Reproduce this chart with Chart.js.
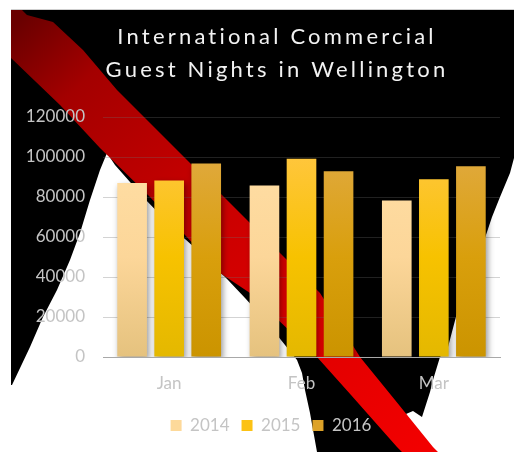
<!DOCTYPE html>
<html>
<head>
<meta charset="utf-8">
<script src="https://cdn.jsdelivr.net/npm/chart.js@4.4.0/dist/chart.umd.min.js"></script>
<style>
  html, body { margin: 0; padding: 0; background: #fff; }
  canvas { display: block; }
</style>
</head>
<body>
<canvas id="guestNightsChart" width="514" height="452"></canvas>
<script>
const months = ['Jan', 'Feb', 'Mar'];
const years = ['2014', '2015', '2016'];
const nights2014 = [87000, 85800, 78200];
const nights2015 = [88300, 99100, 88900];
const nights2016 = [96700, 92900, 95400];
const yTicks = [0, 20000, 40000, 60000, 80000, 100000, 120000];
const chartTitle = ['International Commercial', 'Guest Nights in Wellington'];

const labelFont = { family: 'Lato', size: 17 };
const labelColor = '#c4c4c4';

// vertical gradient for each year's bars
function barFill(stops) {
  return ctx => {
    const area = ctx.chart.chartArea;
    if (!area) return stops[1];
    const g = ctx.chart.ctx.createLinearGradient(0, area.top + 40, 0, area.bottom);
    stops.forEach((c, i) => g.addColorStop(i / (stops.length - 1), c));
    return g;
  };
}

const fills = [
  ['#ffdea4', '#fcd699', '#e5c27e'],
  ['#ffc63c', '#f7c200', '#e4b800'],
  ['#e0a93d', '#d99f0c', '#cb9400']
];
const swatches = ['#fdd99a', '#fcc214', '#dda228'];

// black card, white cut-outs and the red ribbon behind the plot
const backdrop = {
  id: 'backdrop',
  beforeDraw(chart) {
    const c = chart.ctx;
    const poly = pts => {
      c.beginPath();
      pts.forEach(([x, y], i) => i ? c.lineTo(x, y) : c.moveTo(x, y));
      c.closePath();
    };
    c.save();
    c.fillStyle = '#fff';
    c.fillRect(0, 0, chart.width, chart.height);
    c.strokeStyle = '#cfcfcf';
    c.lineWidth = 1;
    c.beginPath(); c.moveTo(11, 9.5); c.lineTo(chart.width, 9.5); c.stroke();

    c.fillStyle = '#000';
    poly([
      [11, 10], [514, 10], [514, 158], [510, 173], [500, 197], [492, 217], [487, 232],
      [478, 258], [467, 288], [457, 313], [448, 347], [440, 357], [433, 380], [430, 392],
      [422, 417], [413, 411], [406, 414], [420, 452],
      [317, 452], [310, 413], [305, 390], [302, 373], [297, 360], [285, 345], [265, 320],
      [245, 298], [228, 280], [205, 257], [175, 230], [143, 197], [130, 182], [115, 165],
      [107, 153], [100, 170], [90, 200], [80, 233], [70, 260], [57, 290], [43, 317],
      [30, 347], [12, 385], [11, 385]
    ]);
    c.fill();

    const red = c.createLinearGradient(20, 20, 420, 450);
    red.addColorStop(0, '#6a0000');
    red.addColorStop(0.15, '#a40000');
    red.addColorStop(0.4, '#c40000');
    red.addColorStop(0.7, '#de0000');
    red.addColorStop(1, '#f20000');
    c.fillStyle = red;
    poly([
      [22, 10], [27, 15], [53, 22], [83, 50], [117, 90], [167, 140], [227, 200],
      [275, 248], [320, 293], [360, 357], [395, 400], [433, 447], [438, 452],
      [402, 452], [397, 447], [351, 395], [317, 357], [250, 293], [220, 273],
      [150, 197], [100, 148], [60, 105], [11, 58], [11, 10]
    ]);
    c.fill();
    c.restore();
  }
};

// soft drop shadow under the bars
const barShadow = {
  id: 'barShadow',
  beforeDatasetsDraw(chart) {
    const c = chart.ctx;
    c.save();
    c.shadowColor = 'rgba(0, 0, 0, 0.4)';
    c.shadowBlur = 6;
    c.shadowOffsetX = 2;
    c.shadowOffsetY = 3;
  },
  afterDatasetsDraw(chart) {
    chart.ctx.restore();
  }
};

// wrap a layout box's draw so it is shifted right (and optionally letter-spaced)
function nudge(chart, block, dx, spacing) {
  if (!block || block._nudged) return;
  const draw = block.draw.bind(block);
  block.draw = area => {
    chart.ctx.save();
    if (spacing) chart.ctx.letterSpacing = spacing;
    chart.ctx.translate(dx, 0);
    draw(area);
    chart.ctx.restore();
  };
  block._nudged = true;
}

const headerFooter = {
  id: 'headerFooter',
  beforeDraw(chart) {
    nudge(chart, chart.titleBlock, 18, '3.2px');
    nudge(chart, chart.legend, 12);
  }
};

const seriesValues = [nights2014, nights2015, nights2016];

new Chart(document.getElementById('guestNightsChart'), {
  type: 'bar',
  data: {
    labels: months,
    datasets: years.map((y, i) => ({
      label: y,
      data: seriesValues[i],
      backgroundColor: barFill(fills[i]),
      borderWidth: 0,
      categoryPercentage: 0.84,
      barPercentage: 0.8
    }))
  },
  options: {
    responsive: false,
    animation: false,
    layout: { padding: { left: 18, right: 14, top: 0, bottom: 8 } },
    plugins: {
      title: {
        display: true,
        text: chartTitle,
        color: '#f2f2f2',
        font: { family: 'Lato', size: 22, weight: 'normal', lineHeight: 1.5 },
        padding: { top: 20, bottom: 31 }
      },
      legend: {
        position: 'bottom',
        labels: {
          color: labelColor,
          font: labelFont,
          boxWidth: 11,
          boxHeight: 11,
          padding: 12,
          generateLabels: chart => Chart.defaults.plugins.legend.labels.generateLabels(chart)
            .map((l, i) => ({ ...l, fillStyle: swatches[i], strokeStyle: swatches[i], lineWidth: 0 }))
        }
      },
      tooltip: { enabled: false }
    },
    scales: {
      x: {
        grid: { display: false },
        border: { color: '#a8a8a8', width: 1 },
        ticks: { color: labelColor, font: labelFont, padding: 8 },
        afterFit: s => { s.height = 48; }
      },
      y: {
        min: yTicks[0],
        max: yTicks[yTicks.length - 1],
        grid: { color: 'rgba(110, 110, 110, 0.3)', drawTicks: false },
        border: { display: false },
        ticks: {
          stepSize: yTicks[1] - yTicks[0],
          color: labelColor,
          font: labelFont,
          padding: 18,
          callback: v => String(v)
        },
        afterFit: s => { s.width = 85; }
      }
    }
  },
  plugins: [backdrop, barShadow, headerFooter]
});
</script>
</body>
</html>
